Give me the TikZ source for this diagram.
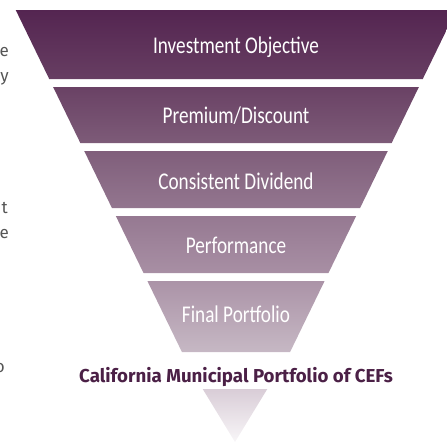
\documentclass[tikz,border=0pt]{standalone}
\usepackage{fontspec}
\setmainfont{Fira Sans}
\newfontfamily\bandfont[FakeStretch=0.8]{Carlito}
\newfontfamily\titlefont{Fira Sans}
\definecolor{bandAtop}{HTML}{542551}
\definecolor{bandAbot}{HTML}{673E62}
\definecolor{bandBbot}{HTML}{7D5B78}
\definecolor{bandCbot}{HTML}{93768F}
\definecolor{bandDbot}{HTML}{A88FA4}
\definecolor{bandEbot}{HTML}{C6B8C4}
\definecolor{tiptop}{HTML}{D9CDD7}
\definecolor{tipbot}{HTML}{F8F6F8}
\definecolor{titlepurple}{HTML}{4B2046}
\definecolor{sidegray}{HTML}{555555}
% one gradient from the funnel top (75bp) to its tip (25bp)
\pgfdeclareverticalshading{funnelfade}{100bp}{color(0bp)=(tipbot); color(25bp)=(tipbot);
  color(31.13bp)=(tiptop); color(35.42bp)=(bandEbot); color(44.56bp)=(bandDbot);
  color(52.08bp)=(bandCbot); color(59.61bp)=(bandBbot); color(67.01bp)=(bandAbot);
  color(75bp)=(bandAtop); color(100bp)=(bandAtop)}

\begin{document}
\begin{tikzpicture}[x=1pt,y=-1pt]
    % Define styles
    \tikzset{
      bandlabel/.style={text=white, font=\bandfont\fontsize{24}{28}\selectfont, inner sep=0pt, anchor=base},
      heading/.style={text=titlepurple, font=\titlefont\bfseries\fontsize{18.7}{22}\selectfont, inner sep=0pt, anchor=base},
      margintext/.style={text=sidegray, font=\fontsize{17}{20}\selectfont, inner sep=0pt, anchor=base east}
    }
    \useasboundingbox (0,0) rectangle (447,442);

    % Funnel bands and tip, all under one gradient
    \begin{scope}
      \clip foreach \yt/\yb in {10/79, 87/143, 151/208, 216/273, 281/352} {
          ({15.7+0.486*(\yt-10)},\yt) -- ({456.3-0.486*(\yt-10)},\yt)
          -- ({456.3-0.486*(\yb-10)},\yb) -- ({15.7+0.486*(\yb-10)},\yb) -- cycle }
        (202.7,389) -- (267.3,389) -- (235,442) -- cycle;
      \shade[shading=funnelfade] (0,10) rectangle (447,442);
    \end{scope}

    % Labels
    \node[bandlabel] (objective) at (236,53) {Investment Objective};
    \node[bandlabel] (premium) at (236,123) {Premium/Discount};
    \node[bandlabel] (dividend) at (236,189) {Consistent Dividend};
    \node[bandlabel] (performance) at (236,253) {Performance};
    \node[bandlabel] (portfolio) at (236,322) {Final Portfolio};
    \node[heading] (result) at (236,382) {California Municipal Portfolio of CEFs};

    % Cut-off text at the left edge
    \node[margintext] (sideA) at (9,56) {e};
    \node[margintext] (sideB) at (9,81) {y};
    \node[margintext] (sideC) at (8,213) {t};
    \node[margintext] (sideD) at (9,238) {e};
    \node[margintext] (sideE) at (5,372) {o};
\end{tikzpicture}
\end{document}
